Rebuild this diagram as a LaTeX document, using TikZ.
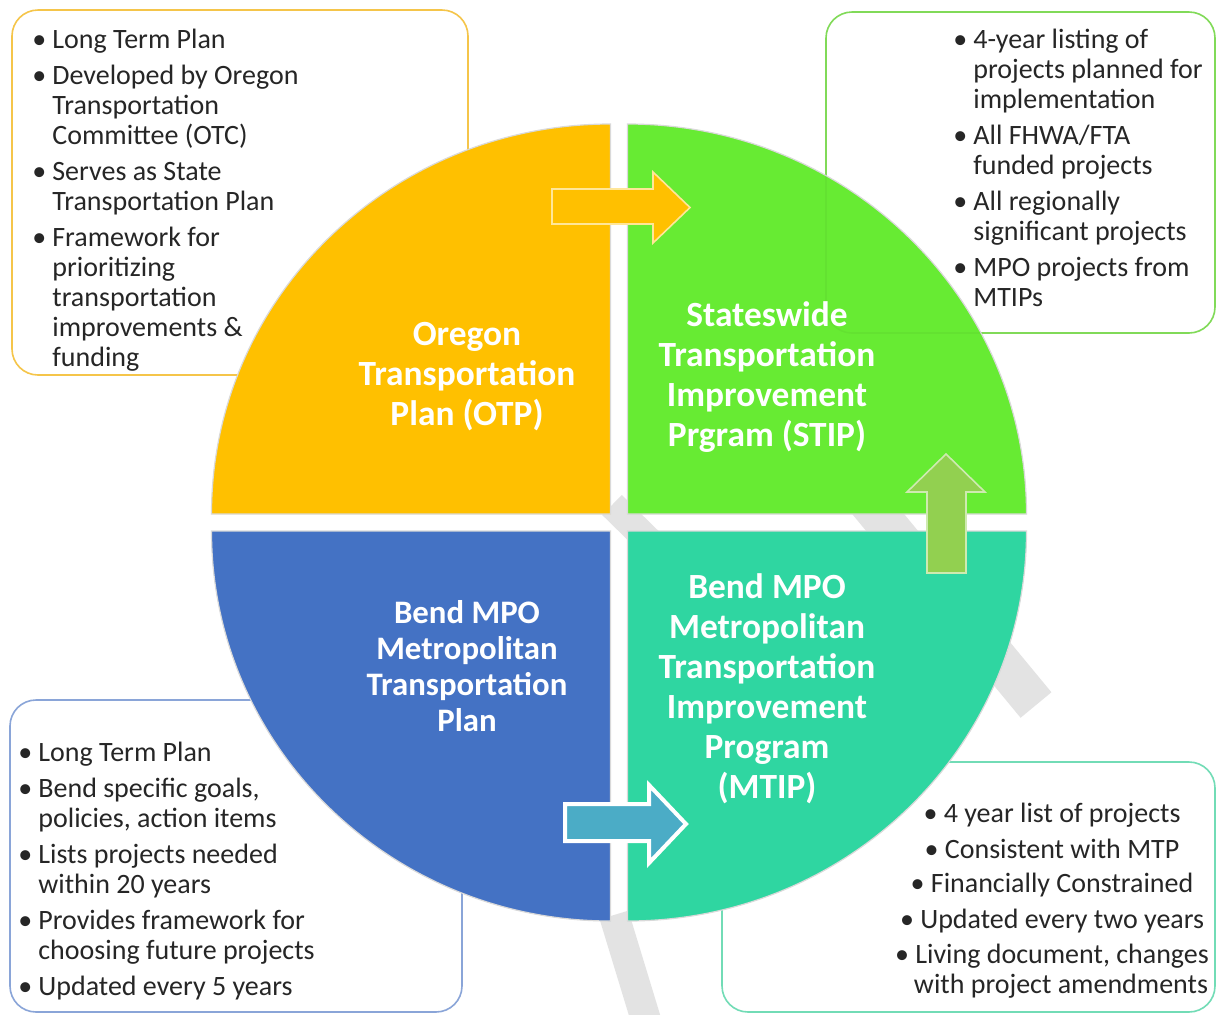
\documentclass[tikz,border=0pt]{standalone}
\usepackage{fontspec}
\setmainfont{Carlito}

\definecolor{otpyellow}{HTML}{FFC000}
\definecolor{stipgreen}{HTML}{67EB33}
\definecolor{mtpblue}{HTML}{4472C4}
\definecolor{mtipteal}{HTML}{2FD6A1}
\definecolor{upgreen}{HTML}{92D050}
\definecolor{arrowteal}{HTML}{4BACC6}
\definecolor{otpedge}{HTML}{F5C54A}
\definecolor{stipedge}{HTML}{86E35C}
\definecolor{mtpedge}{HTML}{8AA5D8}
\definecolor{mtipedge}{HTML}{72DCB6}
\definecolor{draftgray}{HTML}{E3E3E3}

\newcommand\bul{\makebox[10pt][l]{\textbullet}}
\newcommand\ind{\hspace*{10pt}}

\tikzset{
  notebox/.style={rounded corners=13pt, fill=white, line width=0.8pt},
  quarter/.style={draw=black!15, line width=0.6pt},
  notes/.style={inner sep=0pt, align=left, text=black!85,
    font=\fontsize{14}{15}\selectfont},
  quadtext/.style={inner sep=0pt, align=center, text=white,
    font=\bfseries\fontsize{17.7}{20}\selectfont},
  blockarrow/.style={line width=0.8pt, miter limit=4},
  draftband/.style={draftgray, line cap=butt},
}

\begin{document}
\begin{tikzpicture}[x=0.5pt, y=-0.5pt]
  \useasboundingbox (0,0) rectangle (1216,1014);
  \fill[white] (0,0) rectangle (1216,1014);

  % faint watermark strokes behind everything
  \draw[draftband, line width=14pt] (612,505) -- (760,650);
  \draw[draftband, line width=20pt] (850,480) -- (1036,705);
  \draw[draftband, line width=15pt] (614,915) -- (646,1020);

  % note boxes behind the circle
  \draw[notebox, draw=otpedge] (12,10) rectangle (468,375);
  \draw[notebox, draw=stipedge] (826,12) rectangle (1215,333);
  \draw[notebox, draw=mtpedge] (10,700) rectangle (462,1012);
  \draw[notebox, draw=mtipedge] (722,762) rectangle (1215,1012);

  % the four quarters
  \filldraw[quarter, fill=otpyellow] (610.5,514) -- (211.5,514)
    arc[start angle=180, end angle=270, x radius=399, y radius=390] -- cycle;
  \filldraw[quarter, fill=stipgreen] (627.5,514) -- (627.5,124)
    arc[start angle=270, end angle=360, x radius=399, y radius=390] -- cycle;
  \filldraw[quarter, fill=mtpblue] (610.5,531) -- (211.5,531)
    arc[start angle=180, end angle=90, x radius=399, y radius=390] -- cycle;
  \filldraw[quarter, fill=mtipteal] (627.5,531) -- (1026.5,531)
    arc[start angle=0, end angle=90, x radius=399, y radius=390] -- cycle;
  \draw[rounded corners=13pt, line width=0.8pt, black, opacity=0.035]
    (826,12) rectangle (1215,333);

  % block arrows
  \filldraw[blockarrow, fill=otpyellow, draw=white!60!otpyellow]
    (552,189) -- (653,189) -- (653,172) -- (690,207.5) -- (653,243)
    -- (653,224) -- (552,224) -- cycle;
  \filldraw[blockarrow, fill=upgreen, draw=white!55!upgreen]
    (927,573) -- (927,492) -- (907,492) -- (946,454) -- (985,492)
    -- (966,492) -- (966,573) -- cycle;
  \filldraw[blockarrow, fill=arrowteal, draw=white, line width=2pt]
    (565,804) -- (649,804) -- (649,785) -- (686,824) -- (649,863)
    -- (649,841) -- (565,841) -- cycle;

  % quarter titles
  \node[quadtext] (otp) at (467,377) {Oregon\\Transportation\\Plan (OTP)};
  \node[quadtext] (stip) at (767,377)
    {Stateswide\\Transportation\\Improvement\\Prgram (STIP)};
  \node[quadtext, font=\bfseries\fontsize{16.4}{18}\selectfont] (mtp) at (467,666)
    {Bend MPO\\Metropolitan\\Transportation\\Plan};
  \node[quadtext] (mtip) at (767,688.5)
    {Bend MPO\\Metropolitan\\Transportation\\Improvement\\Program\\(MTIP)};

  % box texts
  \node[notes, anchor=north west] (otpnotes) at (32,28.5)
    {\bul Long Term Plan\\[3pt]
     \bul Developed by Oregon\\ \ind Transportation\\ \ind Committee (OTC)\\[3pt]
     \bul Serves as State\\ \ind Transportation Plan\\[3pt]
     \bul Framework for\\ \ind prioritizing\\ \ind transportation\\
     \ind improvements \&\\ \ind funding};
  \node[notes, anchor=north west] (stipnotes) at (953,29)
    {\bul 4-year listing of\\ \ind projects planned for\\ \ind implementation\\[3pt]
     \bul All FHWA/FTA\\ \ind funded projects\\[3pt]
     \bul All regionally\\ \ind significant projects\\[3pt]
     \bul MPO projects from\\ \ind MTIPs};
  \node[notes, anchor=north west] (mtpnotes) at (18,742)
    {\bul Long Term Plan\\[3pt]
     \bul Bend specific goals,\\ \ind policies, action items\\[3pt]
     \bul Lists projects needed\\ \ind within 20 years\\[3pt]
     \bul Provides framework for\\ \ind choosing future projects\\[3pt]
     \bul Updated every 5 years};
  \node[notes, align=center, anchor=north] (mtipnotes) at (1052,803)
    {\textbullet\ 4 year list of projects\\[3pt]
     \textbullet\ Consistent with MTP\\[2pt]
     \textbullet\ Financially Constrained\\[3pt]
     \textbullet\ Updated every two years\\[2.5pt]
     \textbullet\ Living document, changes\\ \hspace*{9pt}with project amendments};
\end{tikzpicture}
\end{document}
